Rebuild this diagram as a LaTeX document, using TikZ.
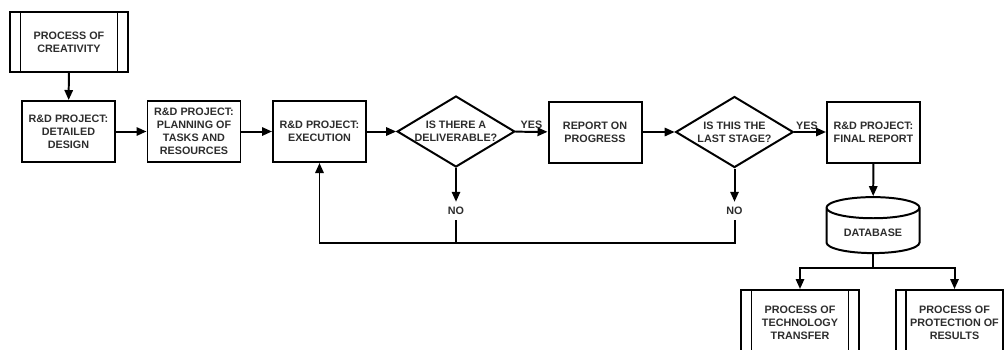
\documentclass[tikz,border=0pt]{standalone}
\usepackage{fontspec}
\setmainfont{Liberation Sans}
\usetikzlibrary{shapes.geometric, arrows.meta, positioning}
\definecolor{inkgray}{RGB}{45,45,45}

\begin{document}
\begin{tikzpicture}[x=0.3mm, y=-0.3mm,
    every node/.style={font=\fontsize{9.2}{11.1}\selectfont\bfseries, text=inkgray, align=center},
    stepbox/.style={rectangle, draw=black, line width=1.7pt, minimum width=27.9mm, minimum height=18.3mm, inner sep=1pt},
    procbox/.style={stepbox, minimum width=35.2mm, minimum height=18mm},
    query/.style={diamond, draw=black, line width=1.7pt, aspect=1.66, inner sep=0pt, minimum width=35.3mm, minimum height=21.3mm},
    store/.style={cylinder, shape border rotate=90, draw=black, line width=1.7pt, aspect=0.32, minimum width=27.9mm, minimum height=16.8mm},
    answer/.style={inner sep=0pt, minimum height=5.4mm},
    flow/.style={-{Triangle[length=3mm,width=2.5mm]}, line width=1.7pt}]
\useasboundingbox (0,0) rectangle (1004,349);
\clip (0,0) rectangle (1004,349);

% Main line of steps
\node[procbox] (creat) at (69,42) {PROCESS OF\\CREATIVITY};
\node[stepbox] (design) at (68.5,131.5) {R\&D PROJECT:\\DETAILED\\DESIGN};
\node[stepbox] (plan) at (194,131.5) {R\&D PROJECT:\\PLANNING OF\\TASKS AND\\RESOURCES};
\node[stepbox] (exec) at (319.5,131.5) {R\&D PROJECT:\\EXECUTION};
\node[query] (deliv) at (456,131.5) {IS THERE A\\DELIVERABLE?};
\node[stepbox] (report) at (595,132) {REPORT ON\\PROGRESS};
\node[query] (last) at (734.5,132) {IS THIS THE\\LAST STAGE?};
\node[stepbox] (final) at (873.5,132) {R\&D PROJECT:\\FINAL REPORT};

% Storage and follow-up processes
\node[store] (db) at (873,233) {DATABASE};
\node[procbox, minimum height=19.5mm] (tech) at (800,322.5) {PROCESS OF\\TECHNOLOGY\\TRANSFER};
\node[procbox, minimum height=19.5mm] (prot) at (954.5,322.5) {PROCESS OF\\PROTECTION OF\\RESULTS};

% Side bars of the process boxes
\foreach \p in {creat, tech, prot} {
    \draw[line width=1.4pt] ([xshift=3.3mm]\p.north west) -- ([xshift=3.3mm]\p.south west);
    \draw[line width=1.4pt] ([xshift=-3.3mm]\p.north east) -- ([xshift=-3.3mm]\p.south east);
}

% Answers
\node[answer] (no1) at (456,211) {NO};
\node[answer] (no2) at (734.5,211) {NO};
\coordinate (back1) at (456,243);
\coordinate (back2) at (734.5,243);
\coordinate (split) at (873,268);

% Connections
\draw[flow] (creat) -- (design);
\draw[flow] (design) -- (plan);
\draw[flow] (plan) -- (exec);
\draw[flow] (exec) -- (deliv);
\draw[flow] (deliv) -- node[above, inner sep=1.5pt] {YES} (report);
\draw[flow] (report) -- (last);
\draw[flow] (last) -- node[above, inner sep=1.5pt, pos=0.4] {YES} (final);
\draw[flow] (deliv) -- (no1);
\draw[flow] (last) -- (no2);
\draw[line width=1.7pt] (no1) -- (back1);
\draw[flow] (no2) -- (back2) -| (exec);
\draw[flow] (final) -- (db);
\draw[line width=1.7pt] (db) -- (split);
\draw[flow] (split) -| (tech);
\draw[flow] (split) -| (prot);
\end{tikzpicture}
\end{document}
